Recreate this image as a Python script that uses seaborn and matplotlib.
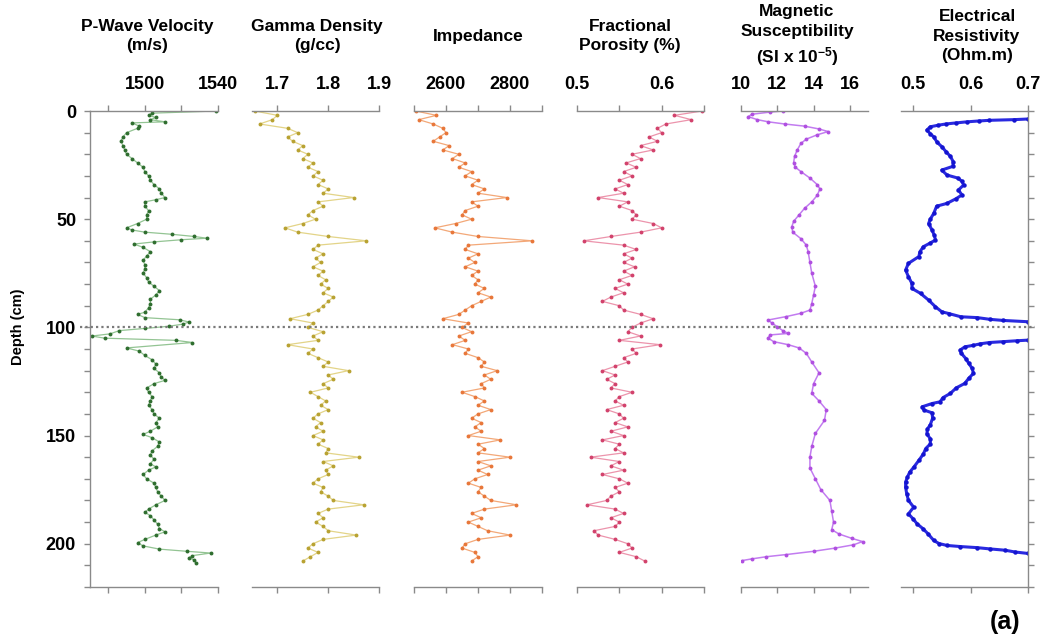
"""Core log panels: P-wave, gamma density, impedance, porosity, mag. sus., resistivity vs depth."""

import matplotlib

matplotlib.use("Agg")
import matplotlib.pyplot as plt  # noqa: E402
import matplotlib.transforms as mtransforms  # noqa: E402
import pandas as pd  # noqa: E402
import seaborn as sns  # noqa: E402
from matplotlib.lines import Line2D  # noqa: E402
from matplotlib.ticker import MultipleLocator  # noqa: E402

sns.set_theme(style="white")
plt.rcParams["font.family"] = ["Liberation Sans", "DejaVu Sans"]
plt.rcParams["font.weight"] = "bold"
plt.rcParams["text.color"] = "black"
plt.rcParams["xtick.labelcolor"] = "black"
plt.rcParams["ytick.labelcolor"] = "black"
plt.rcParams["mathtext.fontset"] = "custom"
plt.rcParams["mathtext.rm"] = "Liberation Sans:bold"
plt.rcParams["mathtext.default"] = "rm"

# ---- data -----------------------------------------------------------------
PWAVE_DEPTH = [
    0, 1, 2, 3, 4, 5, 5.5, 7, 8, 10, 12, 14, 16, 18, 20, 22, 24, 26, 28, 30,
    32, 34, 36, 38, 40, 41, 42, 44, 46, 48, 50, 52, 54, 55, 56, 57, 58, 58.8,
    59.5, 60.5, 61.5, 63, 65, 67, 69, 71, 73, 75, 77, 79, 81, 83, 85, 87, 89,
    91, 93, 94, 95.5, 96.5, 97.5, 98.5, 99.5, 100.5, 101.5, 103, 104, 105, 106,
    107, 109.5, 111, 113, 115, 117, 119, 121, 123, 124.5, 126, 128, 130, 132,
    134, 136, 138, 140, 142, 144, 146, 148, 149.5, 151, 153, 155, 157, 159,
    161, 163, 164.5, 166, 168, 170, 172, 174, 176, 178, 180, 182, 184, 185.5,
    187, 189, 191, 193, 194.5, 196, 198, 199.5, 201, 202.5, 203.5, 204.3,
    205.5, 206.5, 207.5, 209,
]
PWAVE_VEL = [
    1539, 1504, 1502, 1506, 1503, 1511, 1493, 1497, 1496, 1490, 1488, 1487,
    1488, 1489, 1490, 1493, 1496, 1499, 1500, 1502, 1503, 1505, 1508, 1509,
    1511, 1506, 1500, 1500, 1502, 1501, 1501, 1496, 1490, 1493, 1500, 1515,
    1527, 1534, 1520, 1505, 1494, 1499, 1503, 1501, 1499, 1500, 1500, 1499,
    1501, 1502, 1505, 1508, 1506, 1503, 1503, 1502, 1500, 1496, 1500, 1519,
    1524, 1521, 1513, 1500, 1486, 1481, 1471, 1478, 1517, 1526, 1490, 1497,
    1500, 1504, 1506, 1505, 1508, 1509, 1511, 1505, 1501, 1502, 1504, 1503,
    1502, 1504, 1505, 1508, 1506, 1507, 1503, 1499, 1504, 1508, 1507, 1504,
    1503, 1505, 1503, 1506, 1502, 1499, 1501, 1505, 1506, 1507, 1509, 1511,
    1506, 1502, 1500, 1503, 1505, 1507, 1508, 1511, 1506, 1500, 1496, 1499,
    1508, 1523, 1536, 1526, 1524, 1527, 1528,
]

MSCL_DEPTH = [
    0, 2, 4, 6, 8, 10, 12, 14, 16, 18, 20, 22, 24, 26, 28, 30, 32, 34, 36, 38,
    40, 42, 44, 46, 48, 50, 52, 54, 56, 58, 60, 62, 64, 66, 68, 70, 72, 74, 76,
    78, 80, 82, 84, 86, 88, 90, 92, 94, 96, 98, 100, 102, 104, 106, 108, 110,
    112, 114, 116, 118, 120, 122, 124, 126, 128, 130, 132, 134, 136, 138, 140,
    142, 144, 146, 148, 150, 152, 154, 156, 158, 160, 162, 164, 166, 168, 170,
    172, 174, 176, 178, 180, 182, 184, 186, 188, 190, 192, 194, 196, 198, 200,
    202, 204, 206, 208,
]
GAMMA = [
    1.655, 1.70, 1.69, 1.665, 1.72, 1.74, 1.72, 1.73, 1.75, 1.74,
    1.76, 1.75, 1.77, 1.76, 1.78, 1.77, 1.79, 1.78, 1.80, 1.79,
    1.85, 1.78, 1.79, 1.77, 1.76, 1.775, 1.75, 1.715, 1.74, 1.80,
    1.875, 1.78, 1.77, 1.79, 1.775, 1.785, 1.77, 1.79, 1.78, 1.795,
    1.785, 1.80, 1.79, 1.81, 1.80, 1.79, 1.78, 1.76, 1.725, 1.77,
    1.76, 1.79, 1.77, 1.78, 1.72, 1.77, 1.76, 1.78, 1.80, 1.79,
    1.84, 1.80, 1.81, 1.79, 1.80, 1.765, 1.78, 1.795, 1.785, 1.80,
    1.78, 1.77, 1.785, 1.775, 1.79, 1.77, 1.79, 1.78, 1.80, 1.795,
    1.86, 1.79, 1.81, 1.795, 1.80, 1.78, 1.77, 1.79, 1.785, 1.80,
    1.81, 1.87, 1.80, 1.78, 1.79, 1.775, 1.79, 1.80, 1.855, 1.79,
    1.77, 1.76, 1.78, 1.765, 1.75,
]
IMPEDANCE = [
    2505, 2570, 2515, 2560, 2590, 2600, 2580, 2560, 2610, 2590,
    2640, 2620, 2660, 2640, 2680, 2660, 2700, 2680, 2720, 2700,
    2790, 2680, 2700, 2660, 2650, 2680, 2630, 2565, 2620, 2700,
    2870, 2670, 2660, 2700, 2670, 2690, 2660, 2700, 2680, 2700,
    2690, 2720, 2700, 2740, 2710, 2680, 2660, 2640, 2590, 2670,
    2650, 2680, 2640, 2660, 2620, 2670, 2660, 2700, 2720, 2710,
    2760, 2720, 2740, 2710, 2720, 2650, 2690, 2720, 2700, 2740,
    2700, 2680, 2710, 2690, 2710, 2670, 2770, 2700, 2720, 2700,
    2800, 2700, 2740, 2700, 2730, 2690, 2670, 2710, 2700, 2720,
    2740, 2820, 2720, 2680, 2710, 2670, 2700, 2730, 2800, 2700,
    2660, 2650, 2690, 2700, 2680,
]
POROSITY = [
    0.648, 0.615, 0.635, 0.605, 0.595, 0.600, 0.585, 0.595, 0.575, 0.590,
    0.565, 0.575, 0.558, 0.570, 0.555, 0.565, 0.550, 0.560, 0.545, 0.555,
    0.525, 0.560, 0.550, 0.565, 0.570, 0.565, 0.590, 0.600, 0.575, 0.540,
    0.508, 0.555, 0.570, 0.555, 0.565, 0.555, 0.568, 0.555, 0.565, 0.550,
    0.560, 0.545, 0.555, 0.540, 0.530, 0.550, 0.555, 0.575, 0.590, 0.575,
    0.565, 0.560, 0.575, 0.550, 0.598, 0.565, 0.570, 0.555, 0.560, 0.545,
    0.530, 0.545, 0.535, 0.545, 0.540, 0.565, 0.550, 0.545, 0.555, 0.535,
    0.550, 0.555, 0.545, 0.560, 0.540, 0.555, 0.530, 0.550, 0.545, 0.555,
    0.516, 0.550, 0.540, 0.555, 0.530, 0.550, 0.560, 0.545, 0.550, 0.540,
    0.535, 0.512, 0.545, 0.555, 0.540, 0.550, 0.545, 0.520, 0.525, 0.545,
    0.560, 0.565, 0.550, 0.570, 0.580,
]

MAGSUS_DEPTH = [
    0, 0.5, 1.5, 2.6, 4, 5, 6, 7, 8.3, 9.5, 11, 13, 15, 18, 21, 24, 26, 28,
    31, 34, 36, 39, 42, 45, 48, 51, 53.5, 56, 59, 62, 65, 70, 75, 81, 85, 89,
    92, 93.5, 95, 96.6, 98, 99.7, 101.5, 102.8, 103.5, 105, 106.6, 108, 109.5,
    112, 116, 121, 126, 130.5, 134, 138, 143, 149, 155, 160, 165, 170, 175,
    180, 185, 190, 193.5, 195.5, 197.5, 199, 200.5, 202, 203.5, 205, 206, 207,
    207.8,
]
MAGSUS = [
    12.3, 11.6, 10.6, 10.4, 10.9, 11.5, 12.4, 13.5, 14.3, 14.8, 14.2, 13.6,
    13.3, 13.1, 12.95, 12.9, 13.0, 13.3, 13.8, 14.2, 14.35, 14.2, 13.9, 13.5,
    13.2, 12.9, 12.8, 12.85, 13.3, 13.6, 13.7, 13.8, 13.9, 14.1, 14.0, 13.9,
    13.8, 13.3, 12.5, 11.5, 11.7, 12.0, 12.3, 12.6, 11.6, 11.5, 11.8, 12.6,
    13.2, 13.6, 13.9, 14.3, 14.0, 13.9, 14.3, 14.7, 14.6, 14.1, 13.9, 13.8,
    13.8, 14.1, 14.4, 14.9, 15.0, 15.1, 15.0, 15.4, 16.1, 16.7, 16.2, 15.2,
    14.0, 12.5, 11.4, 10.6, 10.05,
]

RES_DEPTH_UPPER = [
    3.7, 4.0, 4.3, 4.6, 5.0, 5.5, 6.0, 6.6, 7.3, 8.8, 10.5, 12, 14.5, 16.5, 19,
    21, 23.5, 25.6, 27.3, 29.6, 31, 32.5, 34.2, 36.5, 38.8, 40.5, 42.7, 44,
    47.3, 50, 52, 55, 57.5, 59.6, 61, 62.7, 65, 67.3, 70.4, 73.5, 76.6, 79.7,
    82, 84.3, 87.4, 90.5, 92.8, 93.6, 95.1, 95.5, 96.3, 96.8, 97.4,
]
RES_UPPER = [
    0.700, 0.675, 0.633, 0.615, 0.594, 0.575, 0.557, 0.543, 0.530, 0.524,
    0.530, 0.536, 0.542, 0.550, 0.558, 0.565, 0.570, 0.569, 0.550, 0.559,
    0.578, 0.585, 0.588, 0.579, 0.585, 0.575, 0.559, 0.541, 0.536, 0.530,
    0.527, 0.533, 0.537, 0.539, 0.530, 0.518, 0.512, 0.510, 0.492, 0.487,
    0.492, 0.498, 0.498, 0.513, 0.527, 0.539, 0.550, 0.562, 0.583, 0.612,
    0.634, 0.657, 0.700,
]
RES_DEPTH_LOWER = [
    105.9, 106.2, 106.6, 107.0, 107.6, 108.3, 109, 110.5, 112, 114.5, 116.7,
    119, 121.3, 123.5, 125.9, 128, 130.5, 132.5, 134.4, 135.2, 136.7, 138.2,
    139.5, 142, 145, 147, 149.2, 151.5, 153.9, 156, 158.5, 161.5, 164.7, 167,
    169.3, 171.5, 173.9, 177, 180, 183.1, 186.2, 188.5, 190.8, 193, 195.4,
    198.5, 199.9, 200.8, 201.3, 201.8, 202.4, 203.0, 203.8, 204.5,
]
RES_LOWER = [
    0.700, 0.680, 0.657, 0.633, 0.617, 0.605, 0.590, 0.582, 0.584, 0.592,
    0.597, 0.603, 0.605, 0.597, 0.590, 0.575, 0.565, 0.552, 0.547, 0.533,
    0.516, 0.519, 0.533, 0.534, 0.530, 0.525, 0.524, 0.530, 0.530, 0.522,
    0.518, 0.510, 0.501, 0.494, 0.490, 0.487, 0.487, 0.489, 0.492, 0.501,
    0.492, 0.500, 0.507, 0.517, 0.526, 0.536, 0.545, 0.559, 0.582, 0.611,
    0.634, 0.660, 0.677, 0.700,
]

DIVIDER_DEPTH = 100
DEPTH_MAX = 220

# ---- panel setup ----------------------------------------------------------
W, H = 1045, 643
AX_LEFT_PX = [90, 252, 414, 577, 741, 901]
AX_WIDTH_PX = [128, 127, 128, 127, 127, 127]
AX_TOP_PX, AX_BOTTOM_PX = 111, 587
TITLE_X_PX = [147, 317, 478, 630, 797, 977]

PANELS = [
    dict(title="P-Wave Velocity\n(m/s)", xlim=(1470, 1540),
         ticks=[1480, 1500, 1520, 1540], labels=["", "1500", "", "1540"],
         line="#93c493", dot="#2f6e2f"),
    dict(title="Gamma Density\n(g/cc)", xlim=(1.65, 1.9),
         ticks=[1.7, 1.8, 1.9], labels=["1.7", "1.8", "1.9"],
         line="#e3d488", dot="#b8a232"),
    dict(title="Impedance", xlim=(2500, 2900),
         ticks=[2500, 2600, 2700, 2800, 2900],
         labels=["", "2600", "", "2800", ""],
         line="#f3a878", dot="#e8773a"),
    dict(title="Fractional\nPorosity (%)", xlim=(0.5, 0.65),
         ticks=[0.5, 0.55, 0.6, 0.65], labels=["0.5", "", "0.6", ""],
         line="#ec94ac", dot="#d2426c"),
    dict(title="Magnetic\nSusceptibility\n(SI x 10$^{-5}$)", xlim=(10, 17),
         ticks=[10, 12, 14, 16], labels=["10", "12", "14", "16"],
         line="#c27cf0", dot="#b04fe0"),
    dict(title="Electrical\nResistivity\n(Ohm.m)", xlim=(0.479, 0.7),
         ticks=[0.5, 0.6, 0.7], labels=["0.5", "0.6", "0.7"],
         line="#2a2ae0", dot="#1414d0"),
]

series = [
    pd.DataFrame({"depth": PWAVE_DEPTH, "value": PWAVE_VEL, "seg": 0}),
    pd.DataFrame({"depth": MSCL_DEPTH, "value": GAMMA, "seg": 0}),
    pd.DataFrame({"depth": MSCL_DEPTH, "value": IMPEDANCE, "seg": 0}),
    pd.DataFrame({"depth": MSCL_DEPTH, "value": POROSITY, "seg": 0}),
    pd.DataFrame({"depth": MAGSUS_DEPTH, "value": MAGSUS, "seg": 0}),
    pd.concat([
        pd.DataFrame({"depth": RES_DEPTH_UPPER, "value": RES_UPPER, "seg": 0}),
        pd.DataFrame({"depth": RES_DEPTH_LOWER, "value": RES_LOWER, "seg": 1}),
    ], ignore_index=True),
]

SPINE = "#8a8a8a"
fig = plt.figure(figsize=(W / 100, H / 100), dpi=100)
axes = []
for i, (p, df) in enumerate(zip(PANELS, series)):
    ax = fig.add_axes([
        AX_LEFT_PX[i] / W,
        1 - AX_BOTTOM_PX / H,
        AX_WIDTH_PX[i] / W,
        (AX_BOTTOM_PX - AX_TOP_PX) / H,
    ])
    axes.append(ax)
    thick = i == 5
    sns.lineplot(
        data=df, x="value", y="depth", units="seg", estimator=None,
        orient="y", sort=False, ax=ax, color=p["line"],
        linewidth=2.2 if thick else (1.1 if i == 4 else 0.9),
        marker="o", markersize=3.2 if thick else 2.8,
        markerfacecolor=p["dot"], markeredgecolor=p["dot"], markeredgewidth=0,
    )
    ax.set_xlim(*p["xlim"])
    ax.set_ylim(DEPTH_MAX, 0)
    ax.set_xlabel("")
    ax.set_ylabel("")
    ax.set_facecolor("none")
    ax.set_xticks(p["ticks"], labels=p["labels"])
    ax.xaxis.set_ticks_position("both")
    ax.tick_params(axis="x", which="both", top=True, bottom=True,
                   labeltop=True, labelbottom=False, direction="out",
                   length=4, width=1, color=SPINE, labelcolor="black",
                   labelsize=13, pad=9)
    for side, sp in ax.spines.items():
        sp.set_color(SPINE)
        sp.set_linewidth(1)
        sp.set_visible(side in ("top", "bottom"))
    ax.tick_params(axis="y", which="both", left=False, right=False,
                   labelleft=False, labelright=False)
    fig.text(TITLE_X_PX[i] / W, 1 - 36 / H, p["title"], ha="center",
             va="center", multialignment="center", fontsize=12.5,
             fontweight="bold", linespacing=1.35, color="black")

# depth axis on the first panel
ax0 = axes[0]
ax0.spines["left"].set_visible(True)
ax0.yaxis.set_major_locator(MultipleLocator(50))
ax0.yaxis.set_minor_locator(MultipleLocator(10))
ax0.tick_params(axis="y", which="both", left=True, labelleft=True,
                direction="out", length=4, width=1, color=SPINE,
                labelcolor="black", labelsize=13, pad=6)

# depth ticks on the right of the last panel
axl = axes[-1]
axl.spines["right"].set_visible(True)
axl.yaxis.set_major_locator(MultipleLocator(10))
axl.tick_params(axis="y", which="major", right=True, labelright=False,
                direction="out", length=4, width=1, color=SPINE)

# section break line
trans = mtransforms.blended_transform_factory(fig.transFigure, ax0.transData)
fig.add_artist(Line2D([80 / W, 1035 / W], [DIVIDER_DEPTH, DIVIDER_DEPTH],
                      transform=trans, color="#7a7a7a", linewidth=1.6,
                      linestyle=(0, (1, 1.4))))

fig.text(18 / W, 1 - 327 / H, "Depth (cm)", rotation=90, ha="center",
         va="center", fontsize=10.5, fontweight="bold", color="black")
fig.text(1005 / W, 1 - 622 / H, "(a)", ha="center", va="center",
         fontsize=18, fontweight="bold", color="black")

fig.savefig("out.png", dpi=100)
